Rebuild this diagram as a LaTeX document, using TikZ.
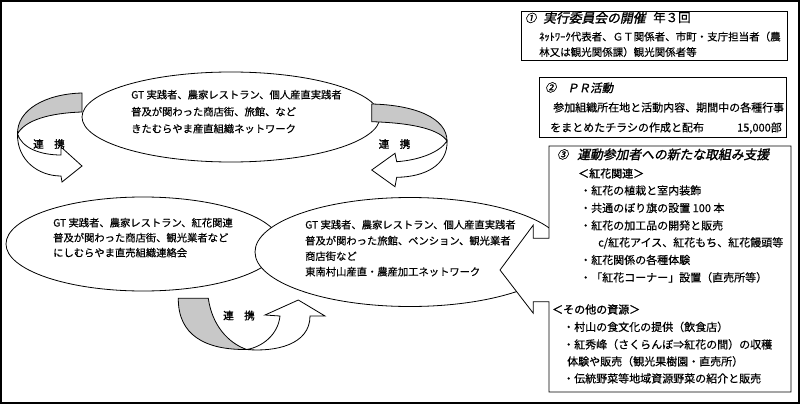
\documentclass[tikz,border=0pt]{standalone}
\usepackage{fontspec}
\setmainfont{Noto Sans CJK JP}
\newfontfamily\jp[FakeBold=0.4]{Noto Sans CJK JP}
\newfontfamily\jpb[FakeBold=1.5]{Noto Sans CJK JP}
\newfontfamily\jpbi[FakeBold=1.5,FakeSlant=0.2]{Noto Sans CJK JP}
\definecolor{bandgray}{RGB}{200,200,200}
\tikzset{
  txt/.style={anchor=west, inner sep=0pt, text height=8.6pt, text depth=1.4pt, font=\jp\fontsize{11}{13}\selectfont},
  txtA/.style={txt, font=\jp\fontsize{10.5}{13}\selectfont},
  etxt/.style={txt, font=\jp\fontsize{10.3}{12}\selectfont},
  head/.style={txt, text height=10pt, text depth=1.6pt, font=\jpbi\fontsize{12.8}{14}\selectfont},
  numb/.style={txt, font=\jpbi\fontsize{11}{13}\selectfont},
  sect/.style={txt, font=\jpb\fontsize{11}{13}\selectfont},
  lbl/.style={anchor=center, inner sep=0pt, font=\jpb\fontsize{10.5}{12}\selectfont},
  shp/.style={draw=black, line width=0.8pt, fill=white},
  back/.style={draw=black, line width=0.8pt, fill=bandgray},
}
\begin{document}
\begin{tikzpicture}[x=1pt, y=-1pt]
\useasboundingbox (0,0) rectangle (800,404);
\fill[white] (0,0) rectangle (800,404);

% ellipses
\draw[shp] (231,117) ellipse [x radius=149pt, y radius=45pt];
\draw[shp] (143,244) ellipse [x radius=137pt, y radius=47pt];
\draw[shp] (410,252) ellipse [x radius=155pt, y radius=54.5pt];

% left curved arrow
\draw[back] (82,93) .. controls (45,94) and (17,110) .. (17.5,134) .. controls (25,120) and (50,113) .. (82,112) -- cycle;
\draw[shp] (17.5,134) .. controls (17,160) and (38,176) .. (61,176) -- (62,182) -- (82,166) -- (61,147) -- (61,155) .. controls (40,155) and (22,148) .. (17.5,134) -- cycle;
% right curved arrow
\draw[back] (371.7,104) .. controls (415,105) and (447,118) .. (447,141) .. controls (440,130) and (415,123) .. (371.7,121.7) -- cycle;
\draw[shp] (447,141) .. controls (448,165) and (425,177) .. (396.7,177.3) -- (395,186.7) -- (371.7,170) -- (395,153.3) -- (396.7,161.7) .. controls (420,160) and (440,152) .. (447,141) -- cycle;
% bottom curved arrow
\draw[back] (178.3,298.3) -- (208.3,298.3) .. controls (212,325) and (228,343) .. (246.7,349.5) .. controls (205,350) and (178,335) .. (178.3,298.3) -- cycle;
\draw[shp] (246.7,349.5) .. controls (275,352) and (310,345) .. (310,316) -- (325,316) -- (298.3,300) -- (265,315) -- (280,316) .. controls (278,335) and (262,347) .. (246.7,349.5) -- cycle;

\node[lbl] (l1) at (49,144) {連　携};
\node[lbl] (l2) at (394.5,144) {連　携};
\node[lbl] (l3) at (239,315.5) {連　携};

% boxes
\draw[shp] (521,11) rectangle (787,60.5);
\draw[shp] (539,77.3) rectangle (786,137.3);
\draw[shp] (549,146) -- (791,146) -- (791,392) -- (549,392) -- (549,301.7) -- (533.3,301.7) -- (533.3,313.3) -- (500,270) -- (533.3,225) -- (533.3,238.3) -- (549,238.3) -- cycle;

% ellipse texts
\node[etxt] (e1a) at (131,95) {GT 実践者、農家レストラン、個人産直実践者};
\node[etxt] (e1b) at (131,112) {普及が関わった商店街、旅館、など};
\node[etxt] (e1c) at (131,129) {きたむらやま産直組織ネットワーク};

\node[etxt] (e2a) at (53,223) {GT 実践者、農家レストラン、紅花関連};
\node[etxt] (e2b) at (53,238) {普及が関わった商店街、観光業者など};
\node[etxt] (e2c) at (53,253) {にしむらやま直売組織連絡会};

\node[etxt] (e3a) at (305,225) {GT 実践者、農家レストラン、個人産直実践者};
\node[etxt] (e3b) at (305,241) {普及が関わった旅館、ペンション、観光業者};
\node[etxt] (e3c) at (305,256.5) {商店街など};
\node[etxt] (e3d) at (305,272) {東南村山産直・農産加工ネットワーク};

% box 1
\node[numb] (n1) at (525,18.5) {①};
\node[head] (h1) at (543,18.5) {実行委員会の開催};
\node[txt, font=\jp\fontsize{12.5}{14}\selectfont] (h1b) at (653,18.5) {年３回};
\node[txtA] (b1a) at (539,37) {ﾈｯﾄﾜｰｸ代表者、ＧＴ関係者、市町・支庁担当者（農};
\node[txtA] (b1b) at (539,52.5) {林又は観光関係課）観光関係者等};

% box 2
\node[numb] (n2) at (545,88) {②};
\node[head, font=\jpbi\fontsize{11.5}{13}\selectfont] (h2) at (567,88) {ＰＲ活動};
\node[txt] (b2a) at (553,108) {参加組織所在地と活動内容、期間中の各種行事};
\node[txt] (b2b) at (550,128) {をまとめたチラシの作成と配布};
\node[txt] (b2c) at (737,128) {15,000部};

% box 3
\node[numb] (n3) at (557,155) {③};
\node[head] (h3) at (577,155) {運動参加者への新たな取組み支援};
\node[sect] (s1) at (578,174) {＜紅花関連＞};
\node[txt] (c1) at (580,191) {・紅花の植栽と室内装飾};
\node[txt] (c2) at (580,208.5) {・共通のぼり旗の設置 100 本};
\node[txt] (c3) at (580,226) {・紅花の加工品の開発と販売};
\node[txt] (c4) at (598,243) {c/紅花アイス、紅花もち、紅花饅頭等};
\node[txt] (c5) at (580,260.5) {・紅花関係の各種体験};
\node[txt] (c6) at (580,278) {・「紅花コーナー」設置（直売所等）};
\node[sect] (s2) at (552,310) {＜その他の資源＞};
\node[txt] (d1) at (563,327.5) {・村山の食文化の提供（飲食店）};
\node[txt] (d2) at (563,345) {・紅秀峰（さくらんぼ⇒紅花の間）の収穫};
\node[txt] (d3) at (567,362) {体験や販売（観光果樹園・直売所）};
\node[txt] (d4) at (563,379) {・伝統野菜等地域資源野菜の紹介と販売};

% frame
\draw[line width=1.6pt] (0.8,0.8) rectangle (799.2,403.2);
\end{tikzpicture}
\end{document}
